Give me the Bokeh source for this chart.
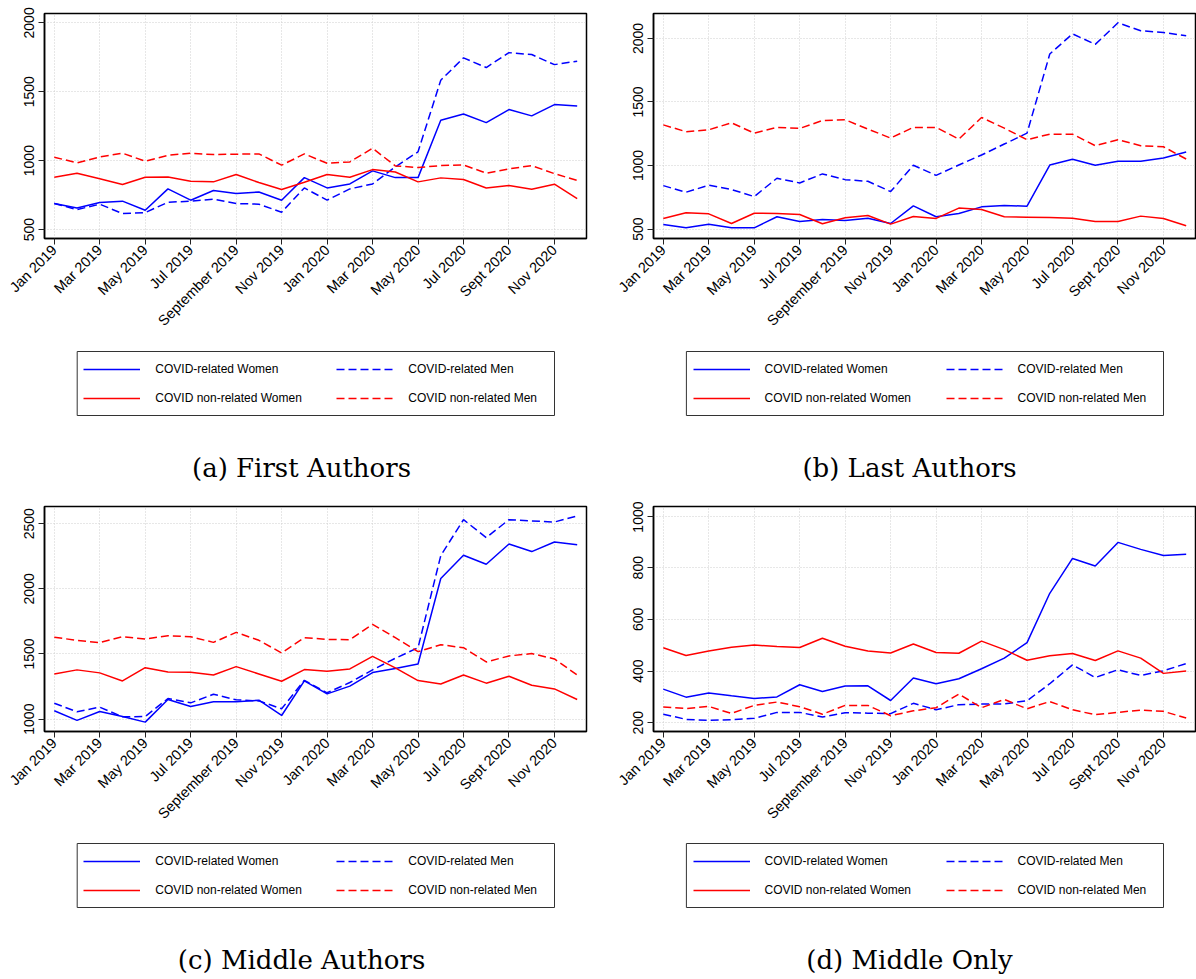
import math
from bokeh.plotting import figure
from bokeh.models import Legend, LegendItem, Label, BoxAnnotation, FixedTicker, Range1d
from bokeh.layouts import column, row
from bokeh.embed import file_html
from bokeh.resources import INLINE
from bokeh.core.properties import value

# ---------------- data ----------------
months = list(range(24))  # Jan 2019 ... Dec 2020
tick_positions = [0, 2, 4, 6, 8, 10, 12, 14, 16, 18, 20, 22]
tick_labels = ["Jan 2019", "Mar 2019", "May 2019", "Jul 2019", "September 2019", "Nov 2019",
               "Jan 2020", "Mar 2020", "May 2020", "Jul 2020", "Sept 2020", "Nov 2020"]
series_names = ["COVID-related Women", "COVID-related Men",
                "COVID non-related Women", "COVID non-related Men"]

# (a) First Authors
first_covid_women = [689, 657, 696, 706, 640, 795, 713, 783, 761, 773, 713, 877,
                     802, 831, 926, 877, 877, 1293, 1339, 1276, 1371, 1325, 1407, 1397]
first_covid_men = [689, 645, 684, 616, 623, 698, 706, 720, 689, 684, 626, 802,
                   713, 795, 831, 955, 1064, 1584, 1746, 1676, 1784, 1770, 1697, 1722]
first_non_women = [880, 909, 868, 827, 880, 882, 851, 846, 899, 841, 790, 843,
                   899, 880, 935, 918, 846, 875, 863, 802, 819, 793, 829, 725]
first_non_men = [1025, 984, 1027, 1054, 996, 1039, 1054, 1044, 1047, 1049, 967, 1049,
                 981, 991, 1090, 962, 950, 964, 969, 909, 940, 964, 906, 856]

# (b) Last Authors
last_covid_women = [537, 510, 539, 510, 510, 597, 560, 576, 568, 586, 544, 683,
                    597, 623, 675, 686, 680, 1004, 1049, 1002, 1033, 1033, 1059, 1106]
last_covid_men = [842, 790, 845, 811, 756, 900, 863, 934, 889, 876, 795, 1002,
                  923, 1004, 1083, 1169, 1255, 1877, 2036, 1953, 2123, 2060, 2047, 2021]
last_non_women = [584, 628, 620, 544, 625, 623, 615, 542, 589, 607, 539, 599,
                  584, 665, 654, 597, 594, 591, 586, 560, 560, 602, 584, 526]
last_non_men = [1320, 1266, 1281, 1336, 1255, 1300, 1292, 1354, 1360, 1287, 1216, 1300,
                1300, 1208, 1378, 1294, 1203, 1247, 1247, 1156, 1203, 1156, 1148, 1051]

# (c) Middle Authors
middle_covid_women = [1064, 990, 1059, 1020, 977, 1151, 1097, 1133, 1133, 1145, 1028, 1293,
                      1194, 1253, 1357, 1388, 1423, 2079, 2258, 2189, 2344, 2286, 2360, 2339]
middle_covid_men = [1122, 1056, 1092, 1018, 1020, 1158, 1125, 1191, 1148, 1140, 1079, 1298,
                    1202, 1281, 1378, 1467, 1548, 2255, 2531, 2393, 2531, 2521, 2513, 2559]
middle_non_women = [1347, 1378, 1355, 1293, 1395, 1362, 1360, 1339, 1403, 1347, 1291, 1380,
                    1367, 1385, 1482, 1393, 1296, 1270, 1339, 1276, 1329, 1260, 1232, 1151]
middle_non_men = [1628, 1605, 1587, 1633, 1615, 1640, 1633, 1589, 1666, 1605, 1508, 1625,
                  1612, 1610, 1727, 1625, 1518, 1571, 1548, 1439, 1485, 1503, 1462, 1339]

# (d) Middle Only
only_covid_women = [330, 299, 315, 304, 294, 300, 347, 321, 342, 343, 286, 373,
                    351, 370, 409, 450, 510, 701, 836, 807, 898, 871, 847, 852]
only_covid_men = [233, 213, 209, 212, 217, 240, 240, 222, 239, 237, 235, 275,
                  250, 270, 272, 273, 285, 351, 424, 375, 405, 383, 401, 429]
only_non_women = [490, 460, 478, 492, 501, 495, 491, 527, 496, 478, 470, 505,
                  472, 469, 516, 483, 442, 459, 468, 441, 478, 450, 391, 400]
only_non_men = [261, 255, 263, 236, 267, 280, 262, 233, 267, 267, 227, 246,
                258, 311, 258, 290, 254, 282, 250, 231, 240, 249, 244, 218]

yticks_a = [500, 1000, 1500, 2000]
yticks_b = [500, 1000, 1500, 2000]
yticks_c = [1000, 1500, 2000, 2500]
yticks_d = [200, 400, 600, 800, 1000]

captions = ["(a) First Authors", "(b) Last Authors", "(c) Middle Authors", "(d) Middle Only"]

# ---------------- styling ----------------
BLUE = "#0000FF"
RED = "#FF0000"
DASH = "8 4"
X_START, X_END = -0.43, 23.41
FRAME_W, FRAME_H = 542, 225


def make_plot(vals, yr, yticks, fig_w, mb_left, top):
    mb_right = fig_w - mb_left - FRAME_W
    p = figure(width=fig_w, height=top + FRAME_H + 100, output_backend="svg", toolbar_location=None,
               x_range=Range1d(X_START, X_END), y_range=Range1d(yr[0], yr[1]),
               min_border_left=mb_left, min_border_right=mb_right,
               min_border_top=top, min_border_bottom=100)
    p.background_fill_color = "white"
    p.border_fill_color = "white"
    p.outline_line_color = "black"
    p.outline_line_width = 1.5

    p.line(months, vals[0], line_color=BLUE, line_width=1.5)
    p.line(months, vals[1], line_color=BLUE, line_width=1.5, line_dash=DASH)
    p.line(months, vals[2], line_color=RED, line_width=1.5)
    p.line(months, vals[3], line_color=RED, line_width=1.5, line_dash=DASH)

    xa = p.xaxis[0]
    xa.ticker = FixedTicker(ticks=tick_positions)
    xa.major_label_overrides = {t: l for t, l in zip(tick_positions, tick_labels)}
    xa.major_label_orientation = math.pi / 4
    xa.major_label_text_font = "Liberation Sans"
    xa.major_label_text_font_size = "14.5px"
    xa.major_label_text_color = "black"
    xa.major_label_standoff = 3
    xa.major_tick_out = 6
    xa.major_tick_in = 0
    xa.major_tick_line_color = "#222222"
    xa.minor_tick_line_color = None
    xa.axis_line_color = "black"
    xa.axis_line_width = 1.5

    ya = p.yaxis[0]
    ya.ticker = FixedTicker(ticks=yticks)
    ya.major_label_orientation = "vertical"
    ya.major_label_text_font = "Liberation Sans"
    ya.major_label_text_font_size = "14px"
    ya.major_label_text_color = "black"
    ya.major_label_standoff = 4
    ya.major_tick_out = 6
    ya.major_tick_in = 0
    ya.major_tick_line_color = "#222222"
    ya.minor_tick_line_color = None
    ya.axis_line_color = "black"
    ya.axis_line_width = 1.5

    for g in (p.xgrid[0], p.ygrid[0]):
        g.grid_line_color = "#cfcfcf"
        g.grid_line_dash = "1 2"
        g.grid_line_width = 1
    return p


def make_legend_fig(vals, w, h, mb_left, box_l, box_r, box_t, box_b, leg_y, cap_x, cap_y, caption):
    # frame spans figure pixels [mb_left, mb_left + FRAME_W]; data units == figure pixels
    mb_right = w - mb_left - FRAME_W
    q = figure(width=w, height=h, output_backend="svg", toolbar_location=None,
               x_range=Range1d(mb_left, mb_left + FRAME_W), y_range=Range1d(0, h),
               x_axis_location=None, y_axis_location=None,
               min_border_left=mb_left, min_border_right=mb_right,
               min_border_top=0, min_border_bottom=0)
    q.outline_line_color = None
    q.grid.visible = False
    q.background_fill_color = "white"
    q.border_fill_color = "white"

    # series renderers (all values lie outside this legend panel's view; they only carry styles)
    r_cw = q.line(months, vals[0], line_color=BLUE, line_width=1.5)
    r_cm = q.line(months, vals[1], line_color=BLUE, line_width=1.5, line_dash=DASH)
    r_nw = q.line(months, vals[2], line_color=RED, line_width=1.5)
    r_nm = q.line(months, vals[3], line_color=RED, line_width=1.5, line_dash=DASH)

    box = BoxAnnotation(left=box_l, right=box_r, top=box_t, bottom=box_b,
                        fill_alpha=0, line_color="#333333", line_width=1, line_alpha=1)
    q.add_layout(box)

    legend = Legend(
        items=[LegendItem(label=value(series_names[0]), renderers=[r_cw]),
               LegendItem(label=value(series_names[2]), renderers=[r_nw]),
               LegendItem(label=value(series_names[1]), renderers=[r_cm]),
               LegendItem(label=value(series_names[3]), renderers=[r_nm])],
        location=(box_l + 0.6 - mb_left, leg_y), orientation="vertical", ncols=2,
        padding=6, spacing=9, margin=0,
        glyph_width=57, glyph_height=20, label_height=20, label_width=172, label_standoff=15,
        label_text_font="Liberation Sans", label_text_font_size="12px", label_text_color="black",
        border_line_alpha=0, background_fill_alpha=0)
    q.add_layout(legend)

    cap = Label(x=cap_x, y=cap_y, text=caption,
                text_font="DejaVu Serif", text_font_size="26px", text_color="black",
                text_align="center", text_baseline="alphabetic")
    q.add_layout(cap)
    return q


vals_a = [first_covid_women, first_covid_men, first_non_women, first_non_men]
vals_b = [last_covid_women, last_covid_men, last_non_women, last_non_men]
vals_c = [middle_covid_women, middle_covid_men, middle_non_women, middle_non_men]
vals_d = [only_covid_women, only_covid_men, only_non_women, only_non_men]

# top row: plots 338 tall (frame 13..238), legend area 163 tall (338..501)
pa = make_plot(vals_a, (435, 2068), yticks_a, 600, 44, 13)
pb = make_plot(vals_b, (426, 2196), yticks_b, 596, 53, 13)
la = make_legend_fig(vals_a, 600, 163, 44, 76.7, 554, 150, 86, 87, 301, 33.5, captions[0])
lb = make_legend_fig(vals_b, 596, 163, 53, 85.9, 563, 150, 86, 87, 309, 33.5, captions[1])

# bottom row: plots 330 tall (frame 506..731), legend area 148 tall (831..979)
pc = make_plot(vals_c, (905, 2632), yticks_c, 600, 44, 5)
pd = make_plot(vals_d, (166, 1037), yticks_d, 596, 53, 5)
lc = make_legend_fig(vals_c, 600, 148, 44, 76.7, 554, 136, 72, 73, 301, 20, captions[2])
ld = make_legend_fig(vals_d, 596, 148, 53, 85.9, 563, 136, 72, 73, 309, 20, captions[3])

layout = column(row(column(pa, la), column(pb, lb)), row(column(pc, lc), column(pd, ld)))
open("out.html", "w").write(file_html(layout, INLINE))
